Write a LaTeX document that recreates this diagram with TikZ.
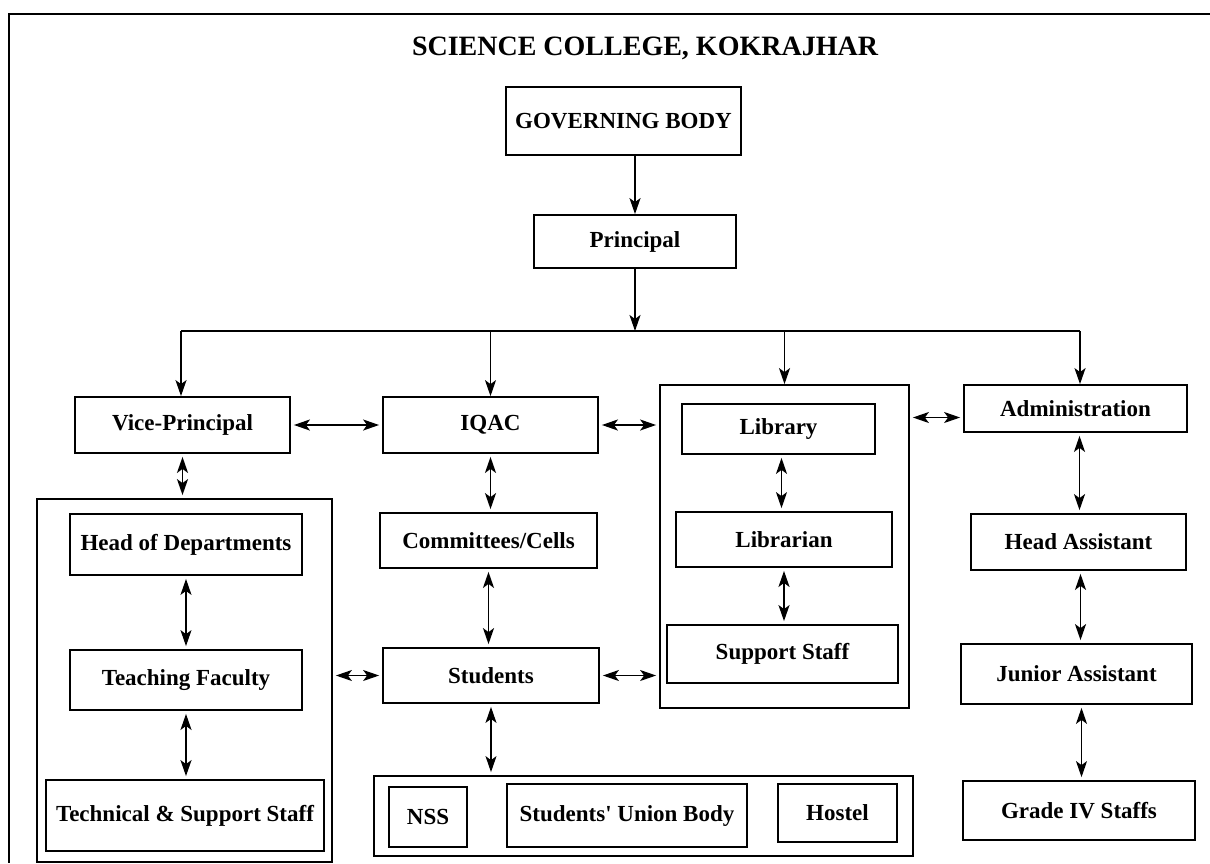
\documentclass[tikz,border=0pt]{standalone}
\usepackage{fontspec}
\setmainfont{Liberation Serif}
\usetikzlibrary{arrows.meta}

\begin{document}
\begin{tikzpicture}[x=1pt, y=-1pt, >={Stealth[length=16pt,width=11pt,inset=4pt]}]
        \def\lw{1.8pt}
        \tikzstyle{place}=[draw=black, line width=\lw, inner sep=0pt, align=center,
            font=\bfseries\fontsize{23}{26}\selectfont]
        \tikzstyle{group}=[draw=black, line width=\lw, inner sep=0pt]
        \tikzstyle{thick link}=[line width=1.9pt]
        \tikzstyle{thin link}=[line width=1.2pt]
        \tikzstyle{gap}=[shorten <=3pt, shorten >=3pt]

        \useasboundingbox (0,0) rectangle (1210,863);

        % Frame
        \draw[line width=2.5pt] (8,14) -- (1210,14);
        \draw[line width=2.5pt] (9,14) -- (9,863);

        % Title
        \node[font=\bfseries\fontsize{28}{32}\selectfont] (title) at (645,48) {SCIENCE COLLEGE, KOKRAJHAR};

        % Groups
        \node[group, minimum width=295pt, minimum height=363pt] (leftout) at (184.5,680.5) {};
        \node[group, minimum width=249pt, minimum height=323pt] (libout) at (784.5,546.5) {};
        \node[group, minimum width=539pt, minimum height=80pt] (botout) at (643.5,816) {};

        % Nodes
        \node[place, minimum width=235pt, minimum height=68pt] (gb) at (623.5,121) {GOVERNING BODY};
        \node[place, minimum width=202pt, minimum height=53pt] (prin) at (635,241.5) {Principal};

        \node[place, minimum width=215pt, minimum height=56pt] (vp) at (182.5,425) {Vice-Principal};
        \node[place, minimum width=215pt, minimum height=56pt] (iqac) at (490.5,425) {IQAC};
        \node[place, minimum width=193pt, minimum height=50pt] (lib) at (778.5,429) {Library};
        \node[place, minimum width=223pt, minimum height=47pt] (adm) at (1075.5,408.5) {Administration};

        \node[place, minimum width=232pt, minimum height=61pt] (hod) at (186,544.5) {Head of Departments};
        \node[place, minimum width=232pt, minimum height=60pt] (tf) at (186,680) {Teaching Faculty};
        \node[place, minimum width=278pt, minimum height=71pt] (tech) at (185,815.5) {Technical \& Support Staff};

        \node[place, minimum width=217pt, minimum height=55pt] (com) at (488.5,540.5) {Committees/Cells};
        \node[place, minimum width=216pt, minimum height=55pt] (stu) at (491,675.5) {Students};

        \node[place, minimum width=216pt, minimum height=55pt] (libn) at (784,539.5) {Librarian};
        \node[place, minimum width=231pt, minimum height=58pt] (sup) at (782.5,654) {Support Staff};

        \node[place, minimum width=215pt, minimum height=56pt] (ha) at (1078.5,542) {Head Assistant};
        \node[place, minimum width=231pt, minimum height=60pt] (ja) at (1076.5,674) {Junior Assistant};
        \node[place, minimum width=232pt, minimum height=59pt] (g4) at (1079,810.5) {Grade IV Staffs};

        \node[place, minimum width=78pt, minimum height=60pt] (nss) at (428,817) {NSS};
        \node[place, minimum width=240pt, minimum height=63pt] (sub) at (627,815.5) {Students\textquotesingle{} Union Body};
        \node[place, minimum width=119pt, minimum height=58pt] (hos) at (837.5,813) {Hostel};

        % Bus
        \coordinate (busL) at (181,331);
        \coordinate (busR) at (1080,331);
        \draw[thin link] (busL) -- (busR);

        % Edges
        \draw [->, thick link] (prin.north |- gb.south) to (prin.north);
        \draw [->, thick link] (prin.south) to (prin.south |- busL);

        \draw [->, thick link] (busL) to (busL |- vp.north);
        \draw [->, thin link] (iqac.north |- busL) to (iqac.north);
        \draw [->, thick link] (libout.north |- busL) to (libout.north);
        \draw [->, thick link] (busR) to (busR |- adm.north);

        \draw [<->, thick link, gap] (vp.east) to (iqac.west);
        \draw [<->, thick link, gap] (iqac.east) to (iqac.east -| libout.west);
        \draw [<->, thin link, gap] ([yshift=-9pt]adm.west -| libout.east) to ([yshift=-9pt]adm.west);

        \draw [<->, thick link, gap] (vp.south) to (vp.south |- leftout.north);
        \draw [<->, thin link, gap] (hod.south) to (tf.north);
        \draw [<->, thick link, gap] (tf.south) to (tf.south |- tech.north);

        \draw [<->, thick link, gap] (iqac.south) to (iqac.south |- com.north);
        \draw [<->, thick link, gap] (com.south) to (com.south |- stu.north);
        \draw [<->, thin link, gap] (stu.west -| leftout.east) to (stu.west);
        \draw [<->, thin link, gap] (stu.east) to (stu.east -| libout.west);
        \draw [<->, thin link, gap] (stu.south) to (stu.south |- botout.north);

        \draw [<->, thin link, gap] ([xshift=3pt]lib.south) to ([xshift=3pt]lib.south |- libn.north);
        \draw [<->, thick link, gap] (libn.south) to (libn.south |- sup.north);

        \draw [<->, thick link, gap] ([xshift=4pt]adm.south) to ([xshift=4pt]adm.south |- ha.north);
        \draw [<->, thick link, gap] ([xshift=2pt]ha.south) to ([xshift=2pt]ha.south |- ja.north);
        \draw [<->, thin link, gap] ([xshift=5pt]ja.south) to ([xshift=5pt]ja.south |- g4.north);

    \end{tikzpicture}
\end{document}
